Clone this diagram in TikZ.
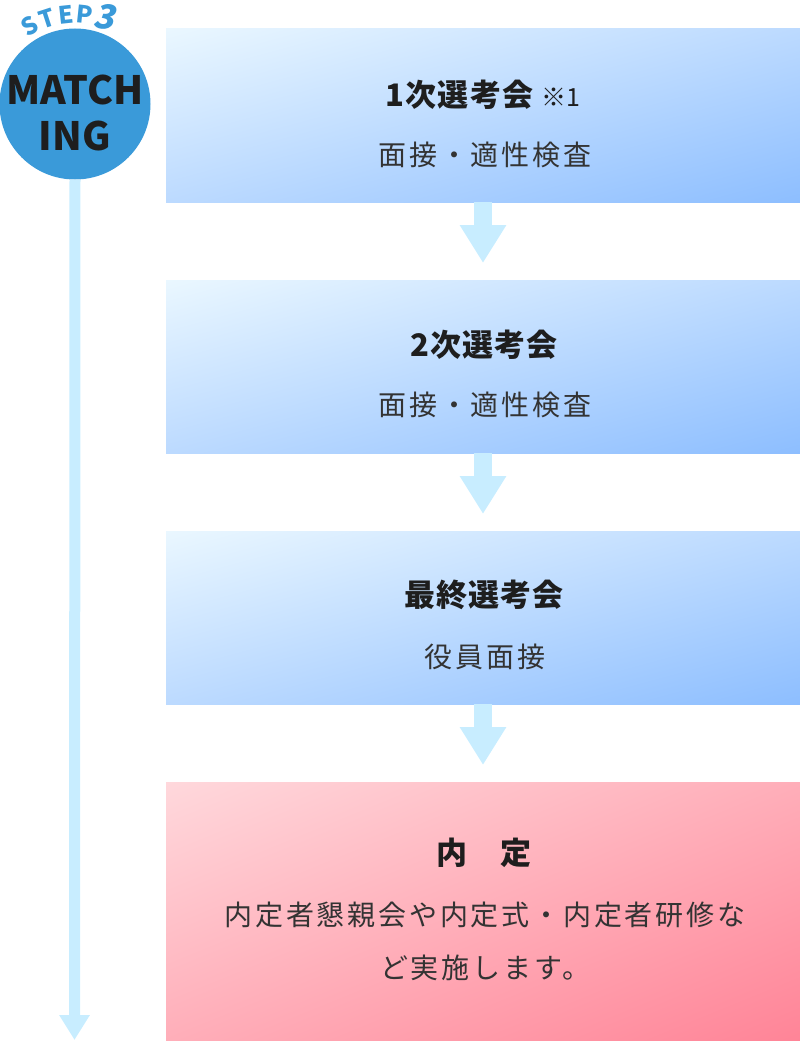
\documentclass[tikz,border=0pt]{standalone}
\usepackage{fontspec}
\usepackage{tikz}
\usetikzlibrary{arrows.meta, shadings, calc, positioning}

\newfontfamily\jpfont[LetterSpace=10]{Noto Sans CJK JP}
\newfontfamily\jptitle[LetterSpace=4]{Noto Sans CJK JP}
\newfontfamily\jpplain{Noto Sans CJK JP}

\definecolor{badgeblue}{HTML}{3A9AD9}
\definecolor{flowblue}{HTML}{C8EDFF}
\definecolor{boxA}{HTML}{EAF7FF}
\definecolor{boxM}{HTML}{BCDAFF}
\definecolor{boxB}{HTML}{8DBEFF}
\definecolor{pinkA}{HTML}{FFD8DC}
\definecolor{pinkM}{HTML}{FFAEB9}
\definecolor{pinkB}{HTML}{FF8497}
\definecolor{inkdark}{HTML}{1E1E1E}
\definecolor{inkgray}{HTML}{333333}

\begin{document}
\begin{tikzpicture}[
    x=1pt, y=-1pt,
    stagebox/.style={anchor=north west, inner sep=0pt, outer sep=0pt,
      minimum width=634pt, minimum height=173pt, shade,
      upper left=boxA, upper right=boxM, lower left=boxM, lower right=boxB},
    pinkbox/.style={stagebox, minimum height=259pt,
      upper left=pinkA, upper right=pinkM, lower left=pinkM, lower right=pinkB},
    titletext/.style={text=inkdark, font=\jptitle\bfseries\fontsize{31}{34}\selectfont},
    subtext/.style={text=inkgray, align=center, font=\jpfont\fontsize{28}{53}\selectfont},
    badgetext/.style={text=inkdark, font=\jpplain\bfseries\fontsize{39}{47}\selectfont},
    steptext/.style={text=badgeblue, inner sep=0pt, font=\jpplain\bfseries\fontsize{24}{26}\selectfont},
    flowarrow/.style={draw=flowblue, line width=18pt,
      -{Triangle[width=44pt, length=38pt]}, shorten >=17pt}
]
  \useasboundingbox (0,0) rectangle (800,1041);

  % --- STAGE BOXES ---
  \foreach \i/\top in {1/29, 2/280, 3/531}
    \node[stagebox] (b\i) at (166,\top) {};
  \node[pinkbox] (b4) at (166,782) {};

  % --- ARROWS BETWEEN STAGES ---
  \foreach \a/\b in {1/2, 2/3, 3/4}
    \draw[flowarrow] (b\a.south) -- (b\b.north);

  % --- STAGE TEXTS ---
  \node[titletext] (t1) at (483,95) {1次選考会\hspace{8pt}{\jpplain\mdseries\fontsize{25}{28}\selectfont ※1}};
  \node[subtext] (s1) at (485,155) {面接・適性検査};
  \node[titletext] (t2) at (484,345) {2次選考会};
  \node[subtext] (s2) at (485,405) {面接・適性検査};
  \node[titletext] (t3) at (484,595) {最終選考会};
  \node[subtext] (s3) at (485,657) {役員面接};
  \node[titletext] (t4) at (484,853) {内　定};
  \node[subtext] (s4) at (485,941) {内定者懇親会や内定式・内定者研修な\\ど実施します。};

  % --- BADGE AND TIMELINE ---
  \coordinate (lineend) at (74.5,1040);
  \node[circle, fill=badgeblue, inner sep=0pt, minimum size=151pt] (badge) at (75,104) {};
  \draw[flowblue, line width=11pt, -{Triangle[width=29pt, length=25pt]}] (badge.south) -- (lineend);
  \node[badgetext] (match) at (75,90) {MATCH};
  \node[badgetext] (ing) at (75,136) {ING};

  % STEP lettering along the arc
  \foreach \ch/\ang in {S/120, T/108, E/96, P/84}
    \node[steptext, rotate=\ang-90] (step\ch) at ($(badge.center)+(-\ang:90)$) {\ch};
  \node[steptext, font=\jpplain\bfseries\fontsize{34}{36}\selectfont, rotate=-8, xslant=0.2]
    (stepnum) at ($(badge.center)+(-70:92)$) {3};

\end{tikzpicture}
\end{document}
